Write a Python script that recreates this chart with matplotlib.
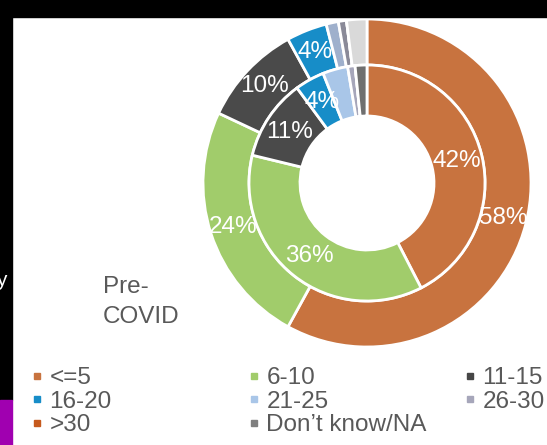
import numpy as np
import matplotlib
matplotlib.use("Agg")
import matplotlib.pyplot as plt
from matplotlib.lines import Line2D
from matplotlib.patches import Rectangle

plt.rcParams["font.family"] = ["Liberation Sans", "DejaVu Sans"]

# ── Data ──────────────────────────────────────────────────────────────────────
categories = ["<=5", "6-10", "11-15", "16-20", "21-25", "26-30", ">30", "Don’t know/NA"]
outer_vals = [58, 24, 10, 4, 1.2, 0.8, 0, 2.0]      # outer ring
inner_vals = [42, 36, 11, 4, 3.4, 1.0, 0, 1.6]      # inner ring (Pre-COVID)
outer_labels = ["58%", "24%", "10%", "4%", "", "", "", ""]
inner_labels = ["42%", "36%", "11%", "4%", "", "", "", ""]

colors = ["#c8733f", "#a1cc6b", "#464646", "#178dc8",
          "#a9c6e8", "#a6a6ba", "#c65a1d", "#7f7f7f"]
outer_colors = ["#c8733f", "#a1cc6b", "#4a4a4a", "#178dc8",
                "#9fb0cc", "#8a8a98", "#c65a1d", "#d9d9d9"]
inner_colors = ["#c8733f", "#a1cc6b", "#4a4a4a", "#178dc8",
                "#a9c6e8", "#a6a6ba", "#c65a1d", "#6f6f6f"]

TEXT_GRAY = "#595959"

# ── Figure ────────────────────────────────────────────────────────────────────
W, H = 547, 445
fig = plt.figure(figsize=(W / 100, H / 100), dpi=100, facecolor="white")

# screenshot borders
fig.patches.append(Rectangle((0, 1 - 17 / H), 1, 17 / H, transform=fig.transFigure,
                             color="black", zorder=0))
fig.patches.append(Rectangle((0, 45 / H), 12 / W, 1, transform=fig.transFigure,
                             color="black", zorder=0))
fig.patches.append(Rectangle((0, 0), 12 / W, 45 / H, transform=fig.transFigure,
                             color="#a000b0", zorder=0))
fig.text(-4 / W, 1 - 280 / H, "y", color="white", fontsize=15, va="center", ha="left")

# donut axes: centre (367, 183) px, outer radius 164 px
cx, cy, R = 367, 183, 164
ax = fig.add_axes([(cx - R) / W, (H - cy - R) / H, 2 * R / W, 2 * R / H])
ax.axis("off")

r_mid = 118 / R
r_hole = 67 / R
wedge_kw = dict(edgecolor="white", linewidth=2)

outer, _ = ax.pie(outer_vals, radius=1.0, colors=outer_colors, startangle=90,
                  counterclock=False, wedgeprops=dict(width=1 - r_mid, **wedge_kw))
inner, _ = ax.pie(inner_vals, radius=r_mid, colors=inner_colors, startangle=90,
                  counterclock=False, wedgeprops=dict(width=r_mid - r_hole, **wedge_kw))
ax.set_xlim(-1, 1)
ax.set_ylim(-1, 1)

def label_ring(wedges, labels, r):
    for w, lab in zip(wedges, labels):
        if not lab:
            continue
        ang = np.deg2rad((w.theta1 + w.theta2) / 2)
        ax.text(r * np.cos(ang), r * np.sin(ang), lab, color="white",
                fontsize=17.5, ha="center", va="center")

label_ring(outer, outer_labels, (1 + r_mid) / 2)
label_ring(inner, inner_labels, (r_mid + r_hole) / 2)

fig.text(103 / W, 1 - 287 / H, "Pre-", color=TEXT_GRAY, fontsize=17.5,
         ha="left", va="center")
fig.text(103 / W, 1 - 317 / H, "COVID", color=TEXT_GRAY, fontsize=17.5,
         ha="left", va="center")

# ── Legend (three columns, row-wise order like the source) ────────────────────
handles = [Line2D([], [], linestyle="none", marker="s", markersize=4.5,
                  color=c) for c in colors]
col_idx = [[0, 3, 6], [1, 4, 7], [2, 5]]
col_left = [30, 247, 463]
for idx, left in zip(col_idx, col_left):
    leg = fig.legend([handles[i] for i in idx], [categories[i] for i in idx],
                     loc="upper left", bbox_to_anchor=(left / W, 1 - 367 / H),
                     frameon=False, fontsize=17.5, handlelength=0.6,
                     handletextpad=0.2, labelspacing=0.07, borderpad=0,
                     borderaxespad=0)
    for t in leg.get_texts():
        t.set_color(TEXT_GRAY)

fig.savefig("out.png", dpi=100, facecolor="white")
